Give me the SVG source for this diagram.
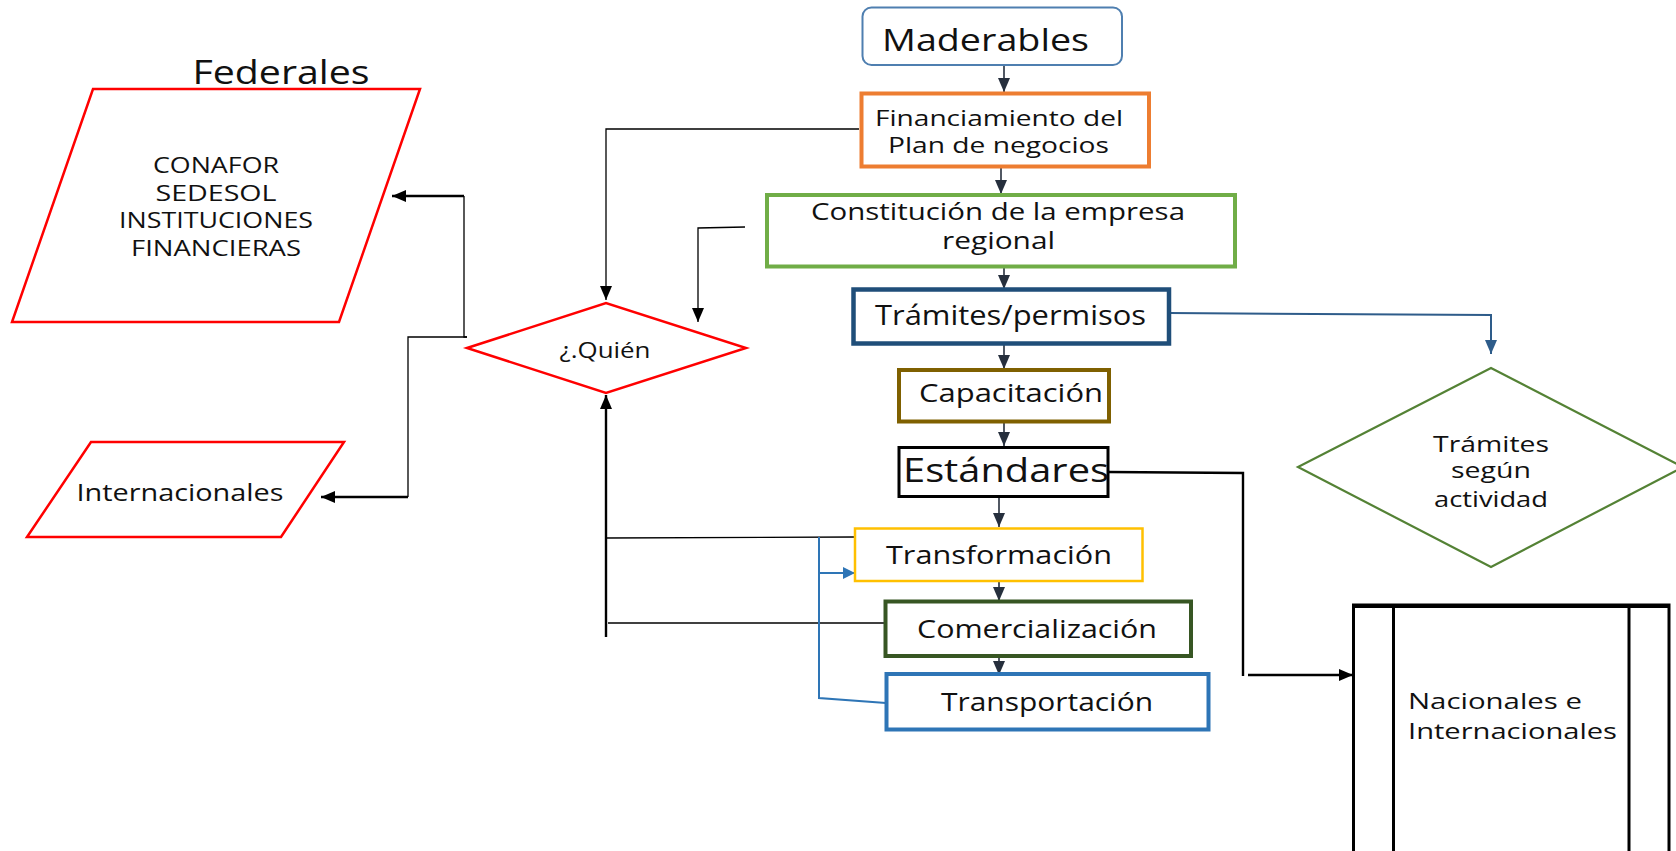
<svg xmlns="http://www.w3.org/2000/svg" width="1676" height="851" viewBox="0 0 1676 851">
<style>
text{font-family:"Open Sans","Liberation Sans",sans-serif;fill:#111;}
.c{text-anchor:middle;}
.flow{fill:none;stroke:#262f3d;stroke-width:1.6;}
.blk{fill:none;stroke:#000;stroke-width:1.3;}
.blkT{fill:none;stroke:#000;stroke-width:2.4;}
.blue{fill:none;stroke:#2e75b6;stroke-width:2;}
.navy{fill:none;stroke:#2e5c8a;stroke-width:2;}
</style>
<defs>
<marker id="aFlow" markerUnits="userSpaceOnUse" markerWidth="14" markerHeight="12" refX="14" refY="6" orient="auto"><path d="M0,0 L14,6 L0,12 z" fill="#262f3d"/></marker>
<marker id="aBlk" markerUnits="userSpaceOnUse" markerWidth="14" markerHeight="12" refX="14" refY="6" orient="auto"><path d="M0,0 L14,6 L0,12 z" fill="#000"/></marker>
<marker id="aBlue" markerUnits="userSpaceOnUse" markerWidth="12" markerHeight="12" refX="12" refY="6" orient="auto"><path d="M0,0 L12,6 L0,12 z" fill="#2e75b6"/></marker>
<marker id="aNavy" markerUnits="userSpaceOnUse" markerWidth="14" markerHeight="12" refX="14" refY="6" orient="auto"><path d="M0,0 L14,6 L0,12 z" fill="#2e5c8a"/></marker>
</defs>
<rect width="1676" height="851" fill="#fff"/>

<g id="connectors">
<line class="flow" x1="1004" y1="65" x2="1004" y2="92" marker-end="url(#aFlow)"/>
<line class="flow" x1="1001" y1="167" x2="1001" y2="194" marker-end="url(#aFlow)"/>
<line class="flow" x1="1004" y1="267" x2="1004" y2="289" marker-end="url(#aFlow)"/>
<line class="flow" x1="1004" y1="344" x2="1004" y2="369" marker-end="url(#aFlow)"/>
<line class="flow" x1="1004" y1="422" x2="1004" y2="446" marker-end="url(#aFlow)"/>
<line class="flow" x1="999" y1="497" x2="999" y2="527" marker-end="url(#aFlow)"/>
<line class="flow" x1="999" y1="575" x2="999" y2="601" marker-end="url(#aFlow)"/>
<line class="flow" x1="999" y1="651" x2="999" y2="675" marker-end="url(#aFlow)"/>
<polyline class="blk" points="859,129 606,129 606,300" marker-end="url(#aBlk)"/>
<polyline class="blk" points="745,227 698,228 698,322" marker-end="url(#aBlk)"/>
<polyline class="blk" points="467,337 464,337 464,196"/>
<line class="blkT" x1="464" y1="196" x2="392" y2="196" marker-end="url(#aBlk)"/>
<polyline class="blk" points="467,337 408,337 408,497"/>
<line class="blkT" x1="408" y1="497" x2="321" y2="497" marker-end="url(#aBlk)"/>
<line class="blkT" x1="606" y1="637" x2="606" y2="395" marker-end="url(#aBlk)"/>
<line class="blk" x1="606" y1="538" x2="855" y2="537"/>
<line class="blk" x1="608" y1="623" x2="885" y2="623"/>
<polyline class="blue" points="819,537 819,698 886,703"/>
<line class="blue" x1="819" y1="573" x2="855" y2="573" marker-end="url(#aBlue)"/>
<polyline class="navy" points="1169,313 1491,315 1491,354" marker-end="url(#aNavy)"/>
<polyline class="blkT" points="1108,472 1243,473 1243,676"/>
<line class="blkT" x1="1248" y1="675" x2="1353" y2="675" marker-end="url(#aBlk)"/>
</g>

<g id="federales-label"><text class="c" x="281" y="84" font-size="33" textLength="177" lengthAdjust="spacingAndGlyphs">Federales</text></g>
<g id="federales">
<polygon points="93,89 420,89 339,322 12,322" fill="#fff" stroke="#ff0000" stroke-width="2.5"/>
<text class="c" x="216" y="173" font-size="22" textLength="126" lengthAdjust="spacingAndGlyphs">CONAFOR</text>
<text class="c" x="216" y="201" font-size="22" textLength="121" lengthAdjust="spacingAndGlyphs">SEDESOL</text>
<text class="c" x="216" y="228" font-size="22" textLength="194" lengthAdjust="spacingAndGlyphs">INSTITUCIONES</text>
<text class="c" x="216" y="256" font-size="22" textLength="170" lengthAdjust="spacingAndGlyphs">FINANCIERAS</text>
</g>
<g id="internacionales">
<polygon points="91,442 344,442 281,537 27,537" fill="#fff" stroke="#ff0000" stroke-width="2.5"/>
<text class="c" x="180" y="501" font-size="24" textLength="207" lengthAdjust="spacingAndGlyphs">Internacionales</text>
</g>
<g id="quien">
<polygon points="467,348 606,303 746,348 606,393" fill="#fff" stroke="#ff0000" stroke-width="2.5"/>
<text class="c" x="605" y="358" font-size="21" textLength="91" lengthAdjust="spacingAndGlyphs">¿.Quién</text>
</g>
<g id="maderables">
<rect x="862.5" y="7.5" width="259.5" height="57.5" rx="9" fill="#fff" stroke="#4f7fb0" stroke-width="2"/>
<text x="882" y="51" font-size="31" textLength="207" lengthAdjust="spacingAndGlyphs">Maderables</text>
</g>
<g id="financiamiento">
<rect x="861.5" y="93.5" width="287.5" height="73" fill="#fff" stroke="#ed7d31" stroke-width="4"/>
<text x="875" y="126" font-size="22" textLength="248" lengthAdjust="spacingAndGlyphs">Financiamiento del</text>
<text x="888" y="153" font-size="22" textLength="221" lengthAdjust="spacingAndGlyphs">Plan de negocios</text>
</g>
<g id="constitucion">
<rect x="767" y="195" width="468" height="71.5" fill="#fff" stroke="#70ad47" stroke-width="4"/>
<text x="811" y="220" font-size="23" textLength="374" lengthAdjust="spacingAndGlyphs">Constitución de la empresa</text>
<text x="942" y="249" font-size="23" textLength="113" lengthAdjust="spacingAndGlyphs">regional</text>
</g>
<g id="tramites-permisos">
<rect x="853.5" y="289.5" width="315.5" height="54" fill="#fff" stroke="#1f4e79" stroke-width="4.5"/>
<text x="875" y="325" font-size="27" textLength="271" lengthAdjust="spacingAndGlyphs">Trámites/permisos</text>
</g>
<g id="capacitacion">
<rect x="899" y="370" width="210" height="51.5" fill="#fff" stroke="#7f6000" stroke-width="4"/>
<text x="919" y="402" font-size="25" textLength="184" lengthAdjust="spacingAndGlyphs">Capacitación</text>
</g>
<g id="estandares">
<rect x="899" y="447.5" width="209" height="49" fill="#fff" stroke="#000" stroke-width="3"/>
<text x="903" y="482" font-size="33" textLength="206" lengthAdjust="spacingAndGlyphs">Estándares</text>
</g>
<g id="transformacion">
<rect x="855" y="528.5" width="287.5" height="52.5" fill="#fff" stroke="#ffc000" stroke-width="2.5"/>
<text x="886" y="564" font-size="25" textLength="226" lengthAdjust="spacingAndGlyphs">Transformación</text>
</g>
<g id="comercializacion">
<rect x="885.5" y="601.5" width="305.5" height="54.5" fill="#fff" stroke="#375623" stroke-width="4"/>
<text x="917" y="638" font-size="25" textLength="240" lengthAdjust="spacingAndGlyphs">Comercialización</text>
</g>
<g id="transportacion">
<rect x="886.5" y="674" width="322" height="55.5" fill="#fff" stroke="#2e75b6" stroke-width="4"/>
<text x="941" y="711" font-size="25" textLength="212" lengthAdjust="spacingAndGlyphs">Transportación</text>
</g>
<g id="tramites-actividad">
<polygon points="1491,368 1683,467 1491,567 1298,467" fill="#fff" stroke="#548235" stroke-width="2.2"/>
<text class="c" x="1491" y="452" font-size="21" textLength="116" lengthAdjust="spacingAndGlyphs">Trámites</text>
<text class="c" x="1491" y="478" font-size="21" textLength="80" lengthAdjust="spacingAndGlyphs">según</text>
<text class="c" x="1491" y="507" font-size="21" textLength="114" lengthAdjust="spacingAndGlyphs">actividad</text>
</g>
<g id="nacionales">
<rect x="1353.5" y="605" width="315.5" height="260" fill="#fff" stroke="#000" stroke-width="3"/>
<line x1="1353" y1="606" x2="1669" y2="606" stroke="#000" stroke-width="4"/>
<line x1="1393.5" y1="606" x2="1393.5" y2="851" stroke="#000" stroke-width="3"/>
<line x1="1629" y1="606" x2="1629" y2="851" stroke="#000" stroke-width="3"/>
<text x="1408" y="709" font-size="22.5" textLength="174" lengthAdjust="spacingAndGlyphs">Nacionales e</text>
<text x="1408" y="739" font-size="22.5" textLength="209" lengthAdjust="spacingAndGlyphs">Internacionales</text>
</g>
</svg>
